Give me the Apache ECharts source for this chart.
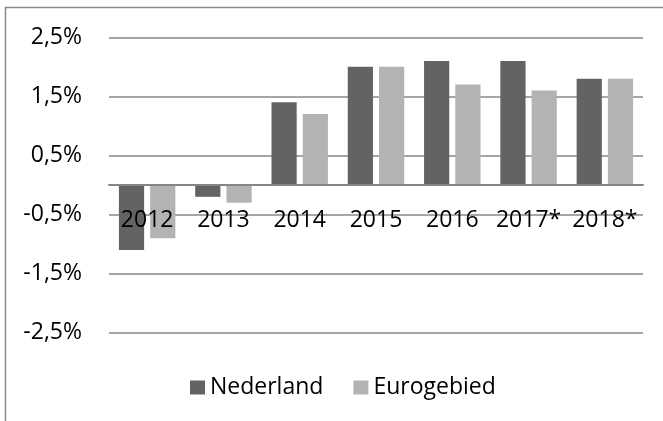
<!DOCTYPE html>
<html>
<head>
<meta charset="utf-8">
<script src="https://cdn.jsdelivr.net/npm/echarts@6/dist/echarts.min.js"></script>
<style>
html,body{margin:0;padding:0;background:#fff;}
#c{width:663px;height:421px;}
</style>
</head>
<body>
<div id="c"></div>
<script>
var categories = ['2012','2013','2014','2015','2016','2017*','2018*'];
var nederland = [-1.1, -0.2, 1.4, 2.0, 2.1, 2.1, 1.8];
var eurogebied = [-0.9, -0.3, 1.2, 2.0, 1.7, 1.6, 1.8];
var seriesNames = ['Nederland', 'Eurogebied'];

var chart = echarts.init(document.getElementById('c'));
var font = '"Open Sans", "Liberation Sans", sans-serif';
chart.setOption({
  animation: false,
  backgroundColor: '#ffffff',
  graphic: [{
    type: 'rect',
    shape: {x: 5.5, y: 7.5, width: 720, height: 500},
    style: {fill: 'none', stroke: '#8a8a8a', lineWidth: 1.5},
    silent: true
  }],
  grid: {left: 109, right: 20, top: 37.3, bottom: 88.3, containLabel: false},
  legend: {
    data: seriesNames,
    left: 185,
    top: 371,
    itemWidth: 15,
    itemHeight: 14,
    itemGap: 30,
    icon: 'rect',
    textStyle: {fontFamily: font, fontSize: 23, color: '#000'}
  },
  xAxis: {
    type: 'category',
    data: categories,
    z: 10,
    axisLine: {onZero: true, lineStyle: {color: '#868686', width: 2}},
    axisTick: {show: false},
    axisLabel: {fontFamily: font, fontSize: 23, color: '#000', margin: -124, interval: 0},
    splitLine: {show: false}
  },
  yAxis: {
    type: 'value',
    min: -2.5,
    max: 2.5,
    interval: 1,
    axisLine: {show: false},
    axisTick: {show: false},
    axisLabel: {
      fontFamily: font, fontSize: 23, color: '#000', margin: 27,
      formatter: function (v) { return v.toFixed(1).replace('.', ',') + '%'; }
    },
    splitLine: {lineStyle: {color: '#898989', width: 1.5}}
  },
  series: [{
    name: seriesNames[0],
    type: 'bar',
    data: nederland,
    itemStyle: {color: '#636363'},
    barGap: '24%',
    barCategoryGap: '26%'
  }, {
    name: seriesNames[1],
    type: 'bar',
    data: eurogebied,
    itemStyle: {color: '#b3b3b3'}
  }]
});
</script>
</body>
</html>
